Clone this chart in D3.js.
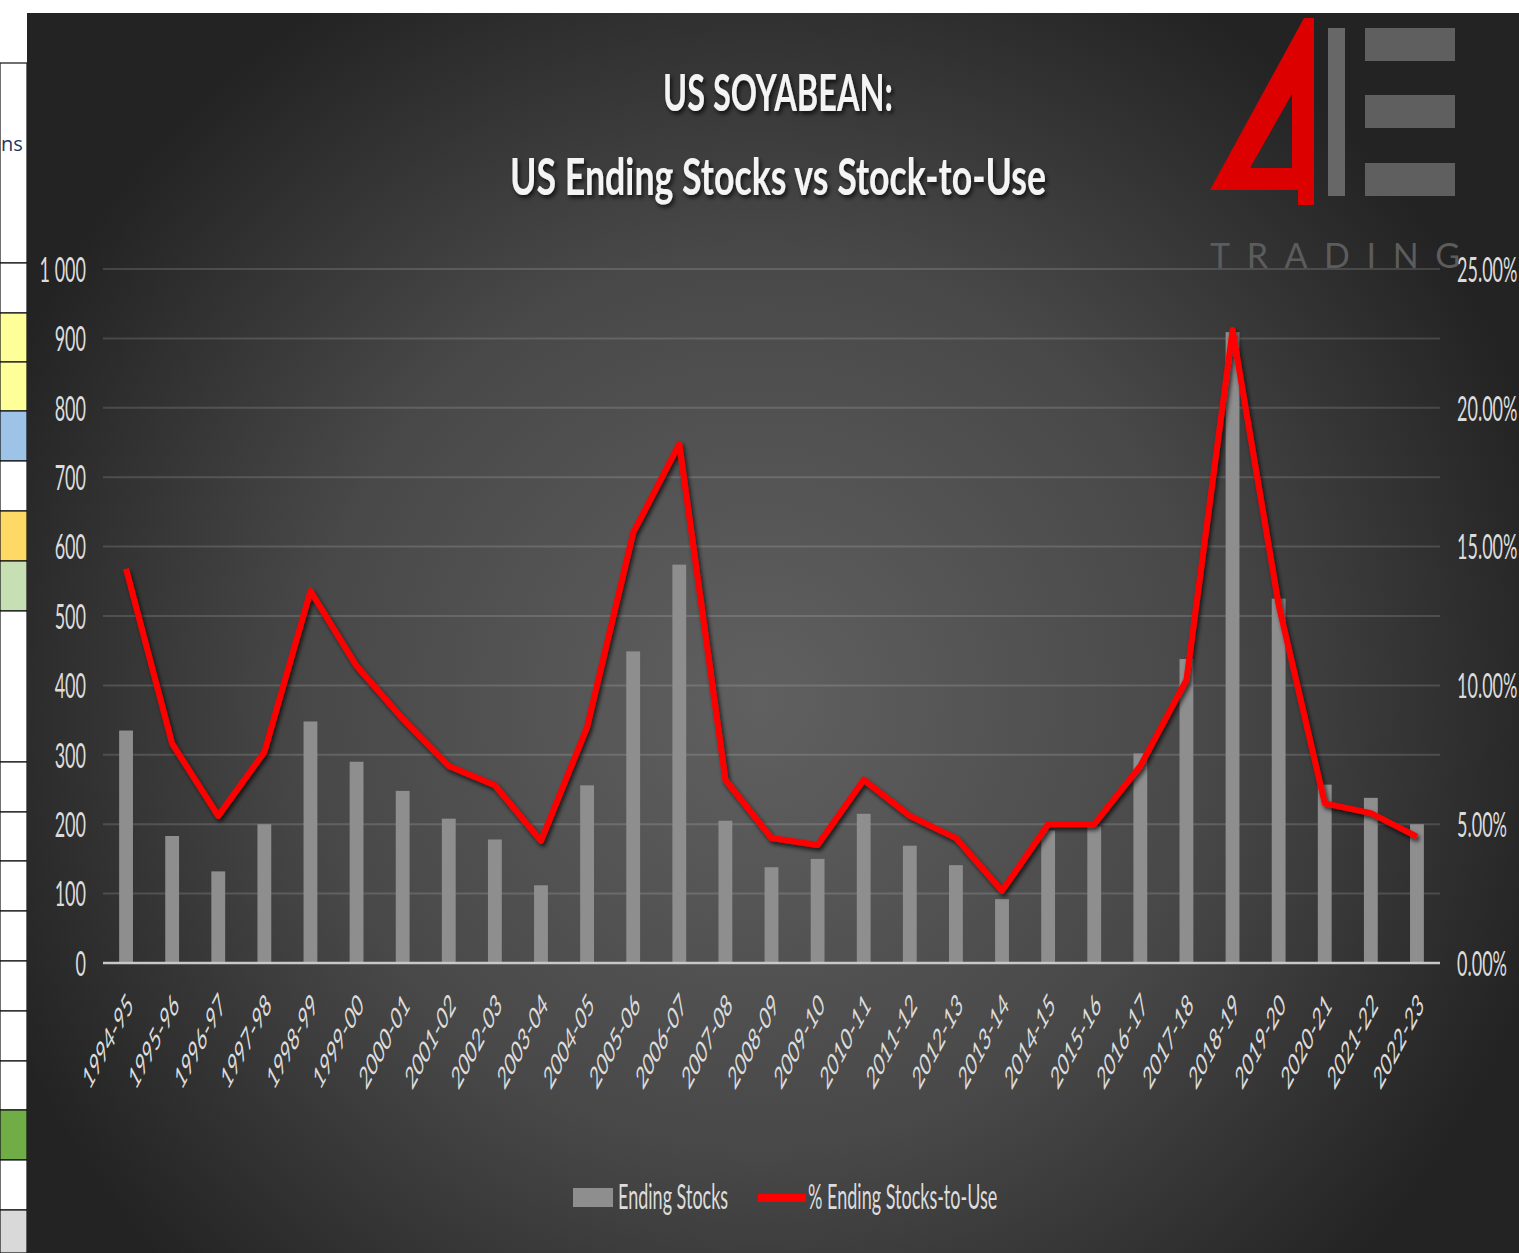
<!DOCTYPE html>
<html lang="en">
  <head>
    <meta charset="utf-8">
    <title>US Soyabean Ending Stocks vs Stock-to-Use</title>
    <style>
      body { margin: 0; background: #fff; }
      svg { display: block; }
    </style>
  </head>
  <body>
    <svg width="1519" height="1253"></svg>
    <script src="https://cdnjs.cloudflare.com/ajax/libs/d3/7.8.5/d3.min.js"></script>
    <script>
      // chart data (million bushels / percent)
      const seasons = ['1994-95','1995-96','1996-97','1997-98','1998-99','1999-00','2000-01','2001-02',
        '2002-03','2003-04','2004-05','2005-06','2006-07','2007-08','2008-09','2009-10','2010-11',
        '2011-12','2012-13','2013-14','2014-15','2015-16','2016-17','2017-18','2018-19','2019-20',
        '2020-21','2021-22','2022-23'];
      const endingStocks = [335,183,132,200,348,290,248,208,178,112,256,449,574,205,138,150,215,
        169,141,92,191,197,302,438,909,525,257,238,200];
      const stocksToUse = [14.2,7.9,5.3,7.6,13.4,10.7,8.8,7.1,6.4,4.4,8.5,15.5,18.7,6.6,4.5,4.25,6.6,
        5.3,4.5,2.6,5.0,5.0,7.1,10.2,22.8,12.9,5.75,5.4,4.55];
      const leftTicks = [0,100,200,300,400,500,600,700,800,900,1000];
      const rightTicks = [0,5,10,15,20,25];
      const legendLabels = ['Ending Stocks', '% Ending Stocks-to-Use'];

      const svg = d3.select('svg');
      const squish = 0.53;   // the picture is narrow, text is squeezed the same way
      const font = 'Lato, "Open Sans", sans-serif';

      const defs = svg.append('defs');
      const grad = defs.append('radialGradient')
        .attr('id', 'bg')
        .attr('gradientUnits', 'userSpaceOnUse')
        .attr('cx', 760).attr('cy', 700).attr('r', 820);
      grad.append('stop').attr('offset', '0%').attr('stop-color', '#606060');
      grad.append('stop').attr('offset', '55%').attr('stop-color', '#484848');
      grad.append('stop').attr('offset', '100%').attr('stop-color', '#232323');

      const shadow = defs.append('filter').attr('id', 'shadow')
        .attr('x', '-10%').attr('y', '-10%').attr('width', '120%').attr('height', '130%');
      shadow.append('feDropShadow').attr('dx', 2).attr('dy', 3).attr('stdDeviation', 2)
        .attr('flood-color', '#000').attr('flood-opacity', 0.7);

      // spreadsheet strip on the left
      const strip = svg.append('g');
      const cells = [
        [63, 263, '#fff'], [263, 313, '#fff'], [313, 362, '#ffff99'], [362, 411, '#ffff99'],
        [411, 461, '#9dc3e6'], [461, 511, '#fff'], [511, 561, '#ffd966'], [561, 611, '#c6e0b4'],
        [611, 762, '#fff'], [762, 812, '#fff'], [812, 861, '#fff'], [861, 911, '#fff'],
        [911, 961, '#fff'], [961, 1011, '#fff'], [1011, 1061, '#fff'], [1061, 1110, '#fff'],
        [1110, 1160, '#70ad47'], [1160, 1210, '#fff'], [1210, 1253, '#d9d9d9']
      ];
      strip.selectAll('rect').data(cells).enter().append('rect')
        .attr('x', 0).attr('y', d => d[0]).attr('width', 27).attr('height', d => d[1] - d[0])
        .attr('fill', d => d[2]).attr('stroke', '#111').attr('stroke-width', 1.2);
      strip.append('text').attr('x', 1).attr('y', 151).text('ns')
        .attr('font-family', '"Open Sans", sans-serif').attr('font-size', 20).attr('fill', '#1f3864');

      // chart background
      svg.append('rect').attr('x', 27).attr('y', 13).attr('width', 1492).attr('height', 1240)
        .attr('fill', 'url(#bg)');

      const margin = {left: 103, right: 1440, top: 269, bottom: 963};

      const x_scale = d3.scaleBand()
        .domain(seasons)
        .range([margin.left, margin.right])
        .paddingInner(0.7)
        .paddingOuter(0.35);
      const y_left = d3.scaleLinear().domain([0, 1000]).range([margin.bottom, margin.top]);
      const y_right = d3.scaleLinear().domain([0, 25]).range([margin.bottom, margin.top]);

      // gridlines
      svg.append('g').selectAll('line').data(leftTicks.slice(1)).enter().append('line')
        .attr('x1', margin.left).attr('x2', margin.right)
        .attr('y1', d => y_left(d)).attr('y2', d => y_left(d))
        .attr('stroke', 'rgba(255,255,255,0.14)').attr('stroke-width', 2);

      // bars
      svg.append('g').selectAll('rect').data(endingStocks).enter().append('rect')
        .attr('x', (d, i) => x_scale(seasons[i]))
        .attr('y', d => y_left(d))
        .attr('width', x_scale.bandwidth())
        .attr('height', d => y_left(0) - y_left(d))
        .attr('fill', '#8e8e8e');

      // zero line
      svg.append('line')
        .attr('x1', margin.left).attr('x2', margin.right)
        .attr('y1', y_left(0)).attr('y2', y_left(0))
        .attr('stroke', '#c8c8c8').attr('stroke-width', 2.5);

      // stocks-to-use line
      const line_gen = d3.line()
        .x((d, i) => x_scale(seasons[i]) + x_scale.bandwidth() / 2)
        .y(d => y_right(d));
      svg.append('path').datum(stocksToUse)
        .attr('d', line_gen)
        .attr('fill', 'none')
        .attr('stroke', '#ff0000')
        .attr('stroke-width', 6)
        .attr('stroke-linejoin', 'round')
        .attr('filter', 'url(#shadow)');

      // axes
      const label_color = '#dcdcdc';
      const left_axis = svg.append('g')
        .attr('transform', `translate(${margin.left},0)`)
        .call(d3.axisLeft(y_left).tickValues(leftTicks).tickSize(0)
          .tickFormat(d => d3.format(',')(d).replace(',', ' ')));
      left_axis.select('.domain').remove();
      left_axis.selectAll('text')
        .attr('x', 0).attr('dy', '0.36em')
        .attr('transform', `translate(-17,0) scale(${squish},1)`)
        .attr('font-family', font).attr('font-size', 34).attr('fill', label_color);

      const right_axis = svg.append('g')
        .attr('transform', `translate(${margin.right},0)`)
        .call(d3.axisRight(y_right).tickValues(rightTicks).tickSize(0)
          .tickFormat(d => d.toFixed(2) + '%'));
      right_axis.select('.domain').remove();
      right_axis.selectAll('text')
        .attr('x', 0).attr('dy', '0.36em')
        .attr('transform', `translate(17,0) scale(${squish},1)`)
        .attr('font-family', font).attr('font-size', 34).attr('fill', label_color);

      const x_axis = svg.append('g')
        .attr('transform', `translate(0,${margin.bottom})`)
        .call(d3.axisBottom(x_scale).tickSize(0));
      x_axis.select('.domain').remove();
      x_axis.selectAll('text')
        .attr('x', 0).attr('y', 0).attr('dy', '0.35em')
        .style('text-anchor', 'end')
        .attr('transform', `translate(4,36) scale(${squish},1) rotate(-45)`)
        .attr('font-family', font).attr('font-size', 31).attr('fill', label_color);

      // titles
      const title_g = svg.append('g').attr('filter', 'url(#shadow)')
        .attr('font-family', font).attr('font-weight', 'bold').attr('fill', '#f4f4f4');
      title_g.append('text').attr('x', 663).attr('y', 111).text('US SOYABEAN:')
        .attr('font-size', 52).attr('textLength', 230).attr('lengthAdjust', 'spacingAndGlyphs');
      title_g.append('text').attr('x', 510).attr('y', 195).text('US Ending Stocks vs Stock-to-Use')
        .attr('font-size', 52).attr('textLength', 536).attr('lengthAdjust', 'spacingAndGlyphs');

      // logo
      const logo = svg.append('g');
      logo.append('path')
        .attr('d', 'M1304,18 L1210,190 L1298,190 L1298,205 L1314,205 L1314,18 Z M1292,94 L1250,168 L1292,168 Z')
        .attr('fill', '#dd0000').attr('fill-rule', 'evenodd');
      logo.append('rect').attr('x', 1328).attr('y', 28).attr('width', 17).attr('height', 168)
        .attr('fill', '#676767');
      [28, 95, 163].forEach(y => {
        logo.append('rect').attr('x', 1365).attr('y', y).attr('width', 90).attr('height', 33)
          .attr('fill', '#5f5f5f');
      });
      logo.append('text').attr('x', 1210).attr('y', 268).text('TRADING')
        .attr('font-family', font).attr('font-size', 34).attr('fill', '#5c5c5c')
        .attr('textLength', 250).attr('lengthAdjust', 'spacing');

      // legend
      const legend = svg.append('g').attr('font-family', font).attr('fill', label_color);
      legend.append('rect').attr('x', 573).attr('y', 1188).attr('width', 40).attr('height', 19)
        .attr('fill', '#8e8e8e');
      legend.append('text').attr('x', 0).attr('y', 0).text(legendLabels[0])
        .attr('font-size', 34)
        .attr('transform', `translate(618,1209) scale(${squish},1)`);
      legend.append('line').attr('x1', 758).attr('x2', 806).attr('y1', 1198).attr('y2', 1198)
        .attr('stroke', '#ff0000').attr('stroke-width', 8);
      legend.append('text').attr('x', 0).attr('y', 0).text(legendLabels[1])
        .attr('font-size', 34)
        .attr('transform', `translate(808,1209) scale(${squish},1)`);
    </script>
  </body>
</html>
